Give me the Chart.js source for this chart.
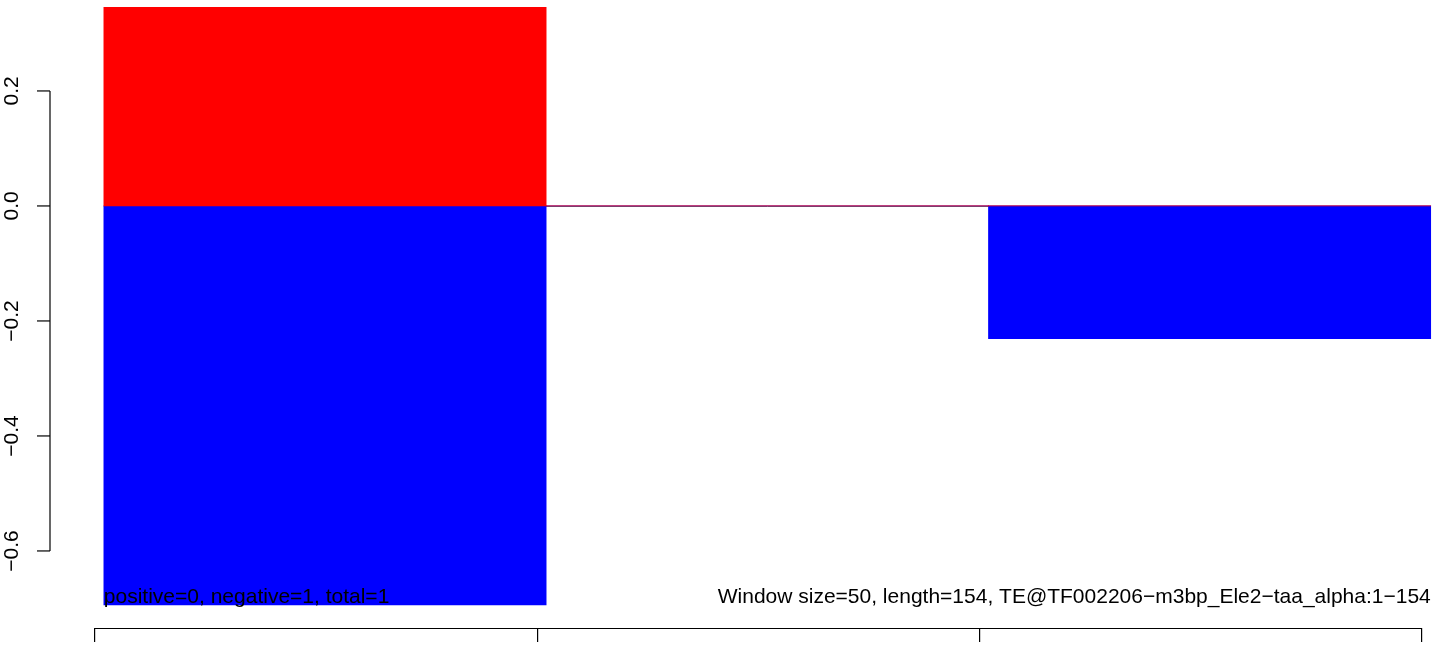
<!DOCTYPE html>
<html>
<head>
<meta charset="utf-8">
<title>Window bar plot</title>
<script src="https://cdn.jsdelivr.net/npm/chart.js@4.4.1/dist/chart.umd.min.js"></script>
<style>
    html, body { margin: 0; padding: 0; background: #ffffff; }
    canvas { display: block; }
</style>
</head>
<body>
<canvas id="window_plot" width="1444" height="647"></canvas>
<script>
// windows along the sequence (start position of each window)
const windowSize = 50;
const windowStarts = [1, 51, 101];

// values per window
const positiveValues = [0.346, 0, 0];
const negativeValues = [-0.694, 0, -0.231];

// axis ticks
const xTickValues = [0, 50, 100, 150];
const yTickValues = [-0.6, -0.4, -0.2, 0.0, 0.2];

const leftNote = "positive=0, negative=1, total=1";
const rightNote = "Window size=50, length=154, TE@TF002206\u2212m3bp_Ele2\u2212taa_alpha:1\u2212154";

const FONT = '"Liberation Sans", Arial, Helvetica, sans-serif';

// bar centre = middle of its window
const toPoints = (values) =>
    values.map((v, i) => ({ x: windowStarts[i] + windowSize / 2, y: v }));

const fmtTick = (v) => v.toFixed(1).replace("-", "\u2212");

// R style axes: lines only run from the first tick to the last one
const rAxes = {
    id: "rAxes",
    beforeDatasetsDraw(chart) {
        const { ctx, scales } = chart;
        const x = scales.x;
        const y = scales.y;
        // zero reference line across the windows
        const y0 = Math.round(y.getPixelForValue(0)) + 0.5;
        ctx.save();
        ctx.strokeStyle = "#6e6e6e";
        ctx.lineWidth = 1;
        ctx.beginPath();
        ctx.moveTo(x.getPixelForValue(windowStarts[0]), y0);
        ctx.lineTo(x.getPixelForValue(windowStarts[windowStarts.length - 1] + windowSize), y0);
        ctx.stroke();
        ctx.restore();
    },
    afterDraw(chart) {
        const { ctx, scales, chartArea } = chart;
        const x = scales.x;
        const y = scales.y;
        ctx.save();
        ctx.strokeStyle = "#000000";
        ctx.fillStyle = "#000000";
        ctx.lineWidth = 1.2;

        // bottom axis line
        const by = chartArea.bottom + 0.5;
        ctx.beginPath();
        ctx.moveTo(x.getPixelForValue(xTickValues[0]), by);
        ctx.lineTo(x.getPixelForValue(xTickValues[xTickValues.length - 1]), by);
        ctx.stroke();

        // left axis, set off from the plot
        const ax = chartArea.left - 45;
        ctx.beginPath();
        ctx.moveTo(ax, y.getPixelForValue(yTickValues[0]));
        ctx.lineTo(ax, y.getPixelForValue(yTickValues[yTickValues.length - 1]));
        ctx.stroke();

        ctx.font = "21px " + FONT;
        yTickValues.forEach((v) => {
            const py = y.getPixelForValue(v);
            ctx.beginPath();
            ctx.moveTo(ax, py);
            ctx.lineTo(ax - 13, py);
            ctx.stroke();

            ctx.save();
            ctx.translate(ax - 32, py);
            ctx.rotate(-Math.PI / 2);
            ctx.textAlign = "center";
            ctx.textBaseline = "alphabetic";
            ctx.fillText(fmtTick(v), 0, 0);
            ctx.restore();
        });

        // notes along the bottom of the plot
        const ty = chartArea.bottom - 25;
        ctx.textBaseline = "alphabetic";
        ctx.textAlign = "left";
        ctx.fillText(leftNote, x.getPixelForValue(windowStarts[0]), ty);
        ctx.textAlign = "right";
        ctx.fillText(rightNote, x.getPixelForValue(windowStarts[windowStarts.length - 1] + windowSize), ty);
        ctx.restore();
    },
};

new Chart(document.getElementById("window_plot"), {
    type: "bar",
    data: {
        datasets: [
            {
                label: "positive",
                data: toPoints(positiveValues),
                backgroundColor: "#ff0000",
                borderWidth: 0,
            },
            {
                label: "negative",
                data: toPoints(negativeValues),
                backgroundColor: "#0000ff",
                borderWidth: 0,
            },
        ],
    },
    options: {
        responsive: false,
        animation: false,
        devicePixelRatio: 1,
        categoryPercentage: 1,
        barPercentage: 1,
        layout: {
            padding: { left: 95, right: 12.6, top: 7, bottom: 5 },
        },
        plugins: {
            legend: { display: false },
            tooltip: { enabled: false },
        },
        scales: {
            x: {
                type: "linear",
                stacked: true,
                offset: false,
                min: 0,
                max: 151.07,
                afterBuildTicks: (scale) => {
                    scale.ticks = xTickValues.map((v) => ({ value: v }));
                },
                ticks: { display: false },
                grid: {
                    display: true,
                    offset: false,
                    drawOnChartArea: false,
                    drawTicks: true,
                    tickLength: 14,
                    color: "#000000",
                    lineWidth: 1.2,
                },
                border: { display: false },
            },
            y: {
                display: false,
                stacked: true,
                min: -0.734,
                max: 0.346,
                afterBuildTicks: (scale) => {
                    scale.ticks = yTickValues.map((v) => ({ value: v }));
                },
            },
        },
    },
    plugins: [rAxes],
});
</script>
</body>
</html>
